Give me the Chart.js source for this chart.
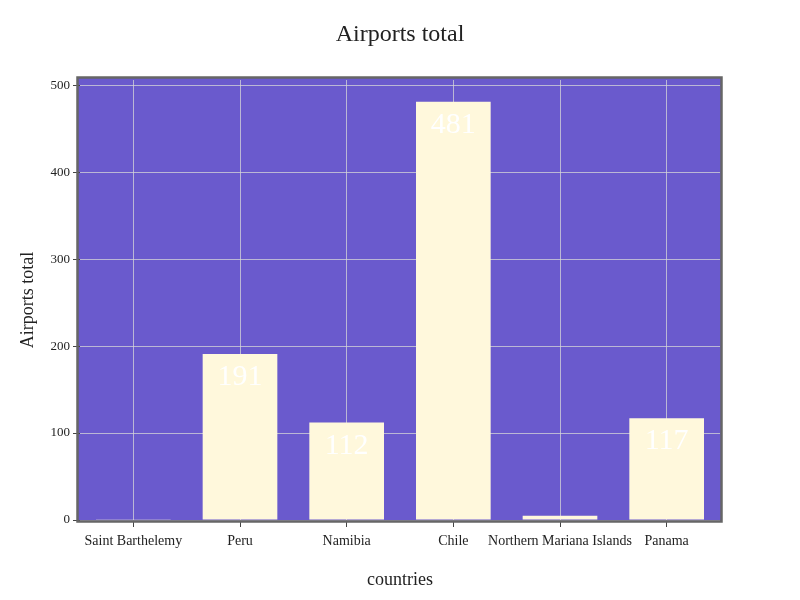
<!DOCTYPE html>
<html lang="en">
  <head>
    <meta charset="UTF-8" />
    <title>Airports total</title>
    <script src="https://cdn.jsdelivr.net/npm/chart.js"></script>
    <style>
      html, body { margin: 0; padding: 0; background: #fff; }
      #wrap { width: 800px; height: 600px; }
    </style>
  </head>
  <body>
    <div id="wrap"><canvas id="myChart"></canvas></div>
    <script>
      const countries = ["Saint Barthelemy", "Peru", "Namibia", "Chile", "Northern Mariana Islands", "Panama"];
      const airports = [1, 191, 112, 481, 5, 117];
      const yTicks = [0, 100, 200, 300, 400, 500];

      const serif = "'Liberation Serif', 'Times New Roman', serif";

      // purple plot background behind grid, grey frame over bars
      const plotFrame = {
        id: "plotFrame",
        beforeDraw(chart) {
          const { ctx, chartArea: a } = chart;
          ctx.save();
          ctx.fillStyle = "#6A5ACD";
          ctx.fillRect(a.left - 3, a.top - 3, a.right - a.left + 5, a.bottom - a.top + 4);
          ctx.restore();
        },
        afterDatasetsDraw(chart) {
          const { ctx, chartArea: a } = chart;
          ctx.save();
          ctx.strokeStyle = "#666";
          ctx.lineWidth = 2.5;
          ctx.strokeRect(a.left - 2.5, a.top - 2.5, a.right - a.left + 4, a.bottom - a.top + 4);
          ctx.restore();
        },
      };

      // value text inside the top of each bar, skipped when the bar is too short
      const barText = {
        id: "barText",
        afterDatasetsDraw(chart) {
          const { ctx } = chart;
          const meta = chart.getDatasetMeta(0);
          ctx.save();
          ctx.font = "30px " + serif;
          ctx.fillStyle = "#ffffff";
          ctx.textAlign = "center";
          ctx.textBaseline = "alphabetic";
          meta.data.forEach((bar, i) => {
            if (bar.base - bar.y < 35) return;
            ctx.fillText(String(airports[i]), bar.x, bar.y + 31);
          });
          ctx.restore();
        },
      };

      const config = {
        type: "bar",
        data: {
          labels: countries,
          datasets: [
            {
              label: "Airports total",
              data: airports,
              backgroundColor: "#FFF8DC",
              borderWidth: 0,
              barPercentage: 0.7,
              categoryPercentage: 1,
            },
          ],
        },
        options: {
          responsive: false,
          animation: false,
          layout: { padding: 0 },
          scales: {
            x: {
              afterFit: (s) => { s.height = 80; },
              grid: {
                offset: false,
                color: "rgba(215,215,215,0.75)",
                tickColor: "#444",
                tickLength: 7,
                lineWidth: 1,
              },
              border: { display: false },
              ticks: {
                color: "#222",
                font: { family: serif, size: 14 },
                padding: 6,
                maxRotation: 0,
                autoSkip: false,
              },
              title: {
                display: true,
                text: "countries",
                color: "#222",
                font: { family: serif, size: 18 },
                padding: { top: 8, bottom: 9 },
              },
            },
            y: {
              min: 0,
              max: 506,
              afterFit: (s) => { s.width = 80; },
              afterBuildTicks: (s) => {
                s.ticks = yTicks.map((v) => ({ value: v }));
              },
              grid: {
                color: "rgba(215,215,215,0.75)",
                tickColor: "#444",
                tickLength: 7,
                lineWidth: 1,
              },
              border: { display: false },
              ticks: {
                color: "#222",
                font: { family: serif, size: 13 },
                padding: 3,
              },
              title: {
                display: true,
                text: "Airports total",
                color: "#222",
                font: { family: serif, size: 18 },
                padding: { top: 17, bottom: 4 },
              },
            },
            // empty right-hand axis that only reserves the right margin
            yRight: {
              position: "right",
              afterFit: (s) => { s.width = 80; },
              grid: { display: false },
              border: { display: false },
              ticks: { display: false },
            },
          },
          plugins: {
            legend: { display: false },
            tooltip: { enabled: false },
            title: {
              display: true,
              text: "Airports total",
              color: "#222",
              font: { family: serif, size: 24, weight: "normal" },
              padding: { top: 20, bottom: 31.2 },
            },
          },
        },
        plugins: [plotFrame, barText],
      };

      const canvas = document.getElementById("myChart");
      canvas.width = 800;
      canvas.height = 600;
      const myChart = new Chart(canvas, config);
    </script>
  </body>
</html>
